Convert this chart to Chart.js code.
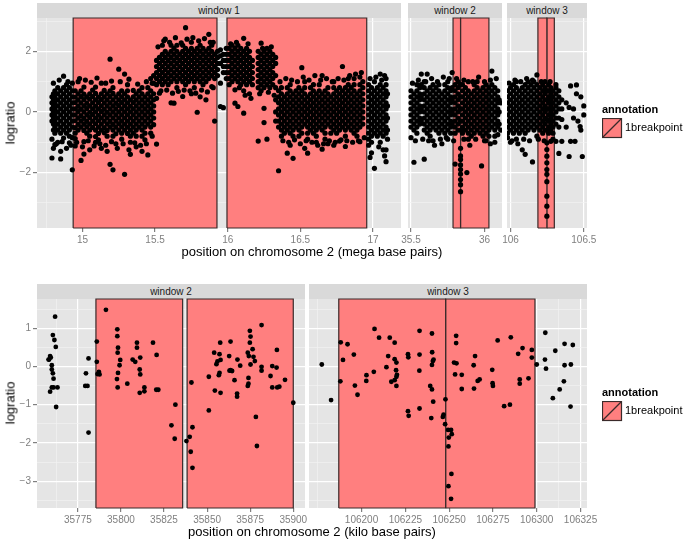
<!DOCTYPE html>
<html>
<head>
<meta charset="utf-8">
<script src="https://cdn.jsdelivr.net/npm/chart.js@4.4.1/dist/chart.umd.min.js"></script>
<style>
  body { margin: 0; background: #fff; font-family: "Liberation Sans", Arial, sans-serif; }
  #wrap { position: relative; width: 685px; height: 541px; overflow: hidden; }
  #wrap canvas { position: absolute; }
  .strip { position: absolute; height: 15px; line-height: 15px; background: #D9D9D9; color: #1a1a1a; font-size: 10px; text-align: center; }
  .title { position: absolute; font-size: 13px; color: #000; white-space: nowrap; }
  .ylab { position: absolute; font-size: 13px; color: #000; transform: translate(-50%, -50%) rotate(-90deg); white-space: nowrap; }
  .legtitle { position: absolute; font-size: 11px; font-weight: bold; }
  .legtext { position: absolute; font-size: 11px; }
  .key { position: absolute; }
</style>
</head>
<body>
<div id="wrap"></div>
<script>
// ---- top row: mega base pairs, columns of [position, [logratios]] ----
const w1Cols = [
  [14.79,[.5,.3,.1,-.1,-.3,-.9,-1.52]],
  [14.80,[.6,.4,.2,0,-.2,-.4,-.6,-1.2]],
  [14.81,[.7,.5,.3,.1,-.1,-.3,-.5,-.7,-1.08]],
  [14.83,[.8,.6,.4,.2,0,-.2,-.4,-.6,-1.0]],
  [14.85,[.7,.5,.3,.1,-.1,-.3,-.5,-.7,-1.3,-1.55]],
  [14.87,[1.18,.8,.6,.4,.2,0,-.2,-.4,-.6,-.86]],
  [14.89,[.9,.7,.5,.3,.1,-.1,-.3,-.5,-.7,-1.2]],
  [14.91,[.8,.6,.4,.2,0,-.2,-.4,-.6,-.8,-1.02]],
  [14.93,[.95,.7,.5,.3,.1,-.1,-.3,-.5,-.85,-1.91]],
  [14.95,[.7,.49,.31,.1,-.1,-.29,-.52,-.7,-.88,-1.12]],
  [14.97,[1.0,.6,.4,.19,.01,-.2,-.41,-.6]],
  [14.99,[.7,.51,.3,.09,-.12,-.3,-.5,-1.6]],
  [15.01,[.82,.59,.41,.2,0,-.21,-.4,-.61,-.98,-1.39]],
  [15.03,[.5,.29,.11,-.1,-.31,-.49,-.7]],
  [15.05,[.6,.42,.2,-.01,-.19,-.4,-.6,-.8,-1.25]],
  [15.07,[.72,.51,.3,.1,-.09,-.3,-.51]],
  [15.09,[.82,.61,.4,.19,0,-.2,-.39,-.6,-.81,-1.0]],
  [15.11,[.49,.31,.1,-.11,-.29,-.5,-.71,-.92]],
  [15.13,[.95,.6,.41,.2,.01,-.2,-.4,-.6,-1.2]],
  [15.15,[.71,.5,.3,.09,-.1,-.3,-.52,-.69]],
  [15.17,[.6,.4,.2,-.01,-.2,-.4,-.61,-.8,-1.3]],
  [15.19,[1.74,.7,.51,.3,.1,-.1,-.31,-.5,-1.73]],
  [15.21,[.8,.61,.4,.2,0,-.2,-.41,-.6,-.8,-1.91]],
  [15.23,[.5,.29,.1,-.1,-.3,-.5,-.72,-1.05]],
  [15.25,[1.41,.6,.4,.21,0,-.2,-.39,-.6]],
  [15.27,[.7,.5,.31,.1,-.1,-.3,-.49,-.7,-.9]],
  [15.29,[1.25,.6,.4,.2,0,-.2,-.4,-.6,-2.06]],
  [15.31,[.9,.7,.5,.3,.1,-.1,-.3,-.5,-.71]],
  [15.33,[.4,.19,0,-.2,-.4,-.6,-.8,-1.0,-1.4]],
  [15.35,[.71,.5,.31,.1,-.1,-.3,-.5,-.7]],
  [15.37,[.6,.4,.2,0,-.2,-.4,-.6,-.8,-1.15]],
  [15.39,[.7,.5,.3,.1,-.1,-.3,-.5]],
  [15.41,[.8,.6,.4,.2,0,-.2,-.4,-.6,-.8,-1.3]],
  [15.43,[.5,.3,.1,-.1,-.3,-.5,-.7,-.92]],
  [15.45,[.8,.6,.4,.2,0,-.2,-.4,-1.42]],
  [15.47,[1.1,.7,.5,.3,.1,-.1,-.3,-.5,-.7]],
  [15.49,[1.2,.95,.6,.4,.2,0,-.2,-.42]],
  [15.51,[1.7,1.5,1.3,1.1,.9,.45,-1.06]],
  [15.53,[1.8,1.6,1.4,1.2,1.0,.62]],
  [15.55,[2.2,1.9,1.7,1.5,1.3,1.1,.9]],
  [15.57,[2.4,2.0,1.8,1.6,1.4,1.2,1.0]],
  [15.59,[1.9,1.7,1.5,1.3,1.1,.9]],
  [15.61,[2.2,2.0,1.8,1.6,1.4,1.2,1.0,.3]],
  [15.63,[2.1,1.9,1.7,1.5,1.3,1.1,.29]],
  [15.65,[2.2,2.0,1.8,1.6,1.4,1.2,1.0,.8]],
  [15.67,[1.9,1.7,1.5,1.3,1.1]],
  [15.69,[2.2,2.0,1.8,1.6,1.4,1.2,1.0,.51]],
  [15.71,[2.78,2.1,1.9,1.7,1.5,1.3,1.1,.9]],
  [15.73,[2.0,1.8,1.6,1.4,1.2,1.0]],
  [15.75,[2.3,2.1,1.9,1.7,1.5,1.3,1.1,.6]],
  [15.77,[2.0,1.8,1.6,1.4,1.2,1.0,.8]],
  [15.79,[2.1,1.9,1.7,1.5,1.3,1.1,-.01]],
  [15.81,[2.2,2.0,1.8,1.6,1.4,1.2,1.0,.5]],
  [15.83,[2.1,1.9,1.7,1.5,1.3,1.1,.9]],
  [15.85,[2.0,1.8,1.6,1.4,1.2,1.0,.4]],
  [15.87,[2.56,2.1,1.9,1.7,1.5,1.3,1.1]],
  [15.89,[2.2,2.0,1.8,1.6,1.4,1.2,.84]],
  [15.91,[1.9,1.7,1.5,1.3,1.1,-.3]],
  [15.93,[2.0,1.8,1.6,1.4,1.2]],
  [15.95,[2.05,1.85,1.6,.95,.18]],
  [15.97,[1.9,1.7,1.5,1.3,.14]],
  [15.99,[2.1,1.9,1.7,1.5,1.3,1.1]],
  [16.01,[2.1,1.9,1.7,1.5,1.3,1.1,.9]],
  [16.03,[2.2,2.0,1.8,1.6,1.4,1.2,1.0]],
  [16.05,[2.1,1.9,1.7,1.5,1.3,1.1,.73,.29]],
  [16.07,[2.2,2.0,1.8,1.6,1.4,1.2,1.0,.18]],
  [16.09,[2.1,1.9,1.7,1.5,1.3,1.1,.9]],
  [16.11,[2.43,2.0,1.8,1.6,1.4,1.2,1.0,.7,-.04]],
  [16.13,[2.1,1.9,1.7,1.5,1.3,1.1,.9]],
  [16.15,[2.0,1.8,1.6,1.4,1.2,1.0,.6]],
  [16.17,[1.7,1.5,1.3,1.1,.9]],
  [16.21,[2.0,1.8,1.6,1.4,1.2,1.0,.8,-.96]],
  [16.23,[2.27,1.9,1.7,1.5,1.3,1.1,.9,.7]],
  [16.25,[2.0,1.8,1.6,1.4,1.2,1.0,.8,.12,-.35]],
  [16.27,[2.1,1.9,1.7,1.5,1.3,1.1,.9,-.9]],
  [16.29,[2.0,1.8,1.6,1.4,1.2,1.0,.8]],
  [16.31,[1.9,1.7,1.5,1.3,1.1,.9]],
  [16.33,[1.8,1.6,1.2,.8,.4,0,-.3]],
  [16.35,[.7,.5,.3,.1,-.1,-.3,-.5,-1.94]],
  [16.37,[.8,.6,.4,.2,0,-.2,-.4,-.6,-.8]],
  [16.39,[.5,.3,.1,-.1,-.3,-.5,-.7]],
  [16.41,[.8,.6,.4,.2,0,-.2,-.4,-.6,-1.36]],
  [16.43,[.9,.7,.5,.3,.1,-.1,-.3,-.5,-.7,-1.1]],
  [16.45,[.6,.4,.2,0,-.2,-.4,-.6,-.8,-1.53]],
  [16.47,[.7,.5,.3,.1,-.1,-.3,-.5]],
  [16.49,[.8,.6,.4,.2,0,-.2,-.4,-.6,-.8]],
  [16.51,[1.46,.7,.5,.3,.1,-.1,-.3,-.5,-.7]],
  [16.53,[1.0,.8,.6,.4,.2,0,-.2,-.4,-1.2]],
  [16.55,[.5,.3,.1,-.1,-.3,-.5,-.7,-.9,-1.36]],
  [16.57,[.8,.6,.4,.2,0,-.2,-.4,-.6]],
  [16.59,[.9,.7,.5,.3,.1,-.1,-.3,-.5,-.7]],
  [16.61,[.6,.4,.2,0,-.2,-.4,-.6,-.8,-1.0]],
  [16.63,[.9,.7,.5,.3,.1,-.1,-.3,-.5]],
  [16.65,[1.2,.6,.4,.2,0,-.2,-.4,-.6,-1.23]],
  [16.67,[.7,.5,.3,.1,-.1,-.3,-.5,-.7,-.9]],
  [16.69,[.8,.6,.4,.2,0,-.2,-.4,-1.05]],
  [16.71,[.5,.3,.1,-.1,-.3,-.5,-.7]],
  [16.73,[1.0,.8,.6,.4,.2,0,-.2,-.4,-.6,-1.1]],
  [16.75,[.7,.5,.3,.1,-.1,-.3,-.5,-.7]],
  [16.77,[.8,.6,.4,.2,0,-.2,-.4,-.6,-.96]],
  [16.79,[1.5,.7,.5,.3,.1,-.1,-.3,-.5]],
  [16.81,[.8,.6,.4,.2,0,-.2,-.4,-.6,-.8,-1.14]],
  [16.83,[1.1,.9,.7,.5,.3,.1,-.1,-.3,-.5]],
  [16.85,[.8,.6,.4,.2,0,-.2,-.4,-.6]],
  [16.87,[1.1,.9,.7,.5,.3,.1,-.1,-.3,-.5,-.7]],
  [16.89,[.6,.4,.2,0,-.2,-.4,-.6,-.8]],
  [16.91,[1.15,.9,.7,.5,.3,.1,-.1,-.3,-.5,-.98]],
  [16.93,[1.0,.8,.6,.4,.2,0,-.2,-.4]],
  [16.97,[.9,.7,.5,.3,.1,-.1,-.3,-.5,-.7,-.9,-1.1]],
  [16.99,[.8,.6,.4,.2,0,-.2,-.4,-.6,-.8,-1.0,-1.35]],
  [17.01,[1.0,.7,.5,.3,.1,-.1,-.3,-.5,-.7,-1.86]],
  [17.03,[.8,.6,.4,.2,0,-.2,-.4,-.6,-.8]],
  [17.05,[1.25,.9,.7,.5,.3,.1,-.1,-.3,-.5,-.7,-1.0]],
  [17.07,[.8,.6,.4,.2,0,-.2,-.4,-.6,-.8,-1.25]],
  [17.09,[1.1,.9,.7,.5,.3,.1,-.1,-.3,-.5,-.7,-1.64,-1.25]],
  [17.10,[.6,.2,-.2,-.6,-.9]]
];
// loose points around the edges of the window 1 clouds
const w1Edge = [
  [14.80,.95],[14.84,1.05],[14.90,1.0],[14.98,1.1],[15.02,1.05],[15.06,.98],[15.10,1.12],[15.16,.95],[15.20,1.02],
  [15.26,1.0],[15.32,1.08],[15.38,.92],[15.44,1.0],[15.48,.95],
  [14.82,-1.05],[14.86,-.98],[14.92,-1.1],[14.96,-1.0],[15.00,-1.15],[15.04,-.95],[15.08,-1.12],[15.12,-1.05],
  [15.16,-1.1],[15.20,-.98],[15.24,-1.2],[15.28,-1.05],[15.32,-1.25],[15.36,-1.02],[15.40,-1.1],[15.44,-1.05],[15.48,-.8],
  [15.52,2.15],[15.56,2.35],[15.60,2.3],[15.64,2.45],[15.68,2.28],[15.72,2.4],[15.76,2.45],[15.80,2.35],[15.84,2.42],
  [15.88,2.3],[15.90,2.3],[15.54,.7],[15.58,.72],[15.62,.62],[15.66,.68],[15.70,.72],[15.74,.7],[15.78,.62],[15.82,.72],
  [15.86,.66],[15.90,.8],
  [16.02,2.25],[16.06,2.3],[16.08,.8],[16.12,.55],[16.14,2.25],[16.16,.45],[16.22,.6],[16.24,2.1],[16.28,.65],[16.30,2.15],[16.32,.55],
  [16.36,1.0],[16.40,1.1],[16.44,1.05],[16.48,1.0],[16.52,1.15],[16.56,1.05],[16.60,1.2],[16.64,1.05],[16.68,1.1],
  [16.72,1.0],[16.76,1.1],[16.80,1.05],[16.84,1.2],[16.88,1.25],[16.92,1.3],
  [16.38,-.95],[16.42,-1.0],[16.46,-.92],[16.50,-1.05],[16.54,-.95],[16.58,-1.0],[16.62,-1.1],[16.66,-1.05],
  [16.70,-.95],[16.74,-1.0],[16.78,-.92],[16.82,-.95],[16.86,-1.0],[16.90,-.95],[16.94,-.85],
  [16.98,1.1],[17.02,1.15],[17.06,1.05],[17.08,1.2],[16.98,-1.5],[17.04,-1.15],[17.08,-1.45]
];

const w2TopCols = [
  [35.50,[.7,.5,.3,.1,-.1,-.3,-.5,-.85]],
  [35.52,[.6,.4,.2,0,-.2,-.4,-.6,-1.66]],
  [35.54,[.9,.7,.5,.3,.1,-.1,-.3,-.5,-.7]],
  [35.56,[.8,.6,.4,.2,0,-.2,-.4]],
  [35.57,[1.25,.9,.5,.1,-.3]],
  [35.59,[1.0,.8,.6,.4,.2,0,-.2,-.4,-.6,-1.56]],
  [35.61,[1.25,.7,.5,.3,.1,-.1,-.3,-.5,-.7]],
  [35.63,[.8,.6,.4,.2,0,-.2,-.4,-.6,-.8]],
  [35.65,[.9,.7,.5,.3,.1,-.1,-.3,-.5,-.95]],
  [35.67,[.8,.6,.4,.2,0,-.2,-.4,-.6]],
  [35.69,[.9,.7,.5,.3,.1,-.1,-.3,-.5,-.7]],
  [35.71,[.6,.4,.2,0,-.2,-.4,-.6,-1.05]],
  [35.73,[.9,.7,.5,.3,.1,-.1,-.3,-.5,-.7]],
  [35.75,[1.0,.8,.6,.4,.2,0,-.2,-.4,-.6,-.9]],
  [35.77,[.7,.5,.3,.1,-.1,-.3,-.5,-.7]],
  [35.78,[1.3,.8,.4,0,-.4]],
  [35.80,[.9,.7,.5,.3,.1,-.1,-.3,-.5,-.7,-1.72]],
  [35.82,[1.0,.8,.6,.4,.2,0,-.2,-.4,-.6]],
  [35.837,[.9,.5,.1,-.3,-.6,-1.2,-1.45,-1.57,-1.75,-1.9,-2.05,-2.23,-2.4,-2.63]],
  [35.85,[.9,.7,.5,.3,.1,-.1,-.3,-.5,-.7]],
  [35.87,[.8,.6,.4,.2,0,-.2,-.4,-.6]],
  [35.88,[-2.0]],
  [35.89,[1.0,.7,.5,.3,.1,-.1,-.3,-.5,-.7,-.9]],
  [35.91,[.6,.4,.2,0,-.2,-.4,-.6,-.8]],
  [35.93,[.9,.7,.5,.3,.1,-.1,-.3,-.5,-.7]],
  [35.95,[1.0,.8,.6,.4,.2,0,-.2,-.4,-.6]],
  [35.97,[.7,.5,.3,.1,-.1,-.3,-.5,-.7]],
  [35.98,[-1.78]],
  [35.99,[.8,.6,.4,.2,0,-.2,-.4,-.6,-.8]],
  [36.01,[.9,.7,.5,.3,.1,-.1,-.3,-.5,-.7,-.95]],
  [36.03,[.8,.6,.4,.2,0,-.2,-.4,-.6,-.8]],
  [36.05,[1.35,.9,.7,.5,.3,.1,-.1,-.3,-.5]],
  [36.07,[.8,.6,.4,.2,0,-.2,-.4,-.6,-.8,-1.0]],
  [36.09,[.7,.5,.3,.1,-.1,-.3,-.5,-.75]],
  [36.10,[.4,0,-.4]]
];
const w2TopEdge = [
  [35.51,.95],[35.55,1.05],[35.60,1.0],[35.64,1.1],[35.68,1.0],[35.72,1.15],[35.76,1.1],[35.81,1.1],[35.86,1.05],
  [35.92,1.0],[35.96,1.15],[36.00,1.0],[36.04,1.05],[36.08,1.1],
  [35.53,-.95],[35.58,-.9],[35.62,-.95],[35.66,-1.1],[35.70,-.9],[35.74,-.85],[35.79,-.95],[35.86,-.9],
  [35.90,-1.1],[35.94,-.9],[36.00,-.95],[36.04,-1.05],[36.11,-.6],[36.11,.3]
];

const w3TopCols = [
  [105.98,[.7,.5,.3,.1,-.1,-.3,-.5,-.7,-.85]],
  [106.00,[.8,.6,.4,.2,0,-.2,-.4,-.6,-1.0]],
  [106.02,[.9,.7,.5,.3,.1,-.1,-.3,-.5,-.7]],
  [106.04,[1.0,.8,.6,.4,.2,0,-.2,-.4,-.6,-.9]],
  [106.06,[.7,.5,.3,.1,-.1,-.3,-.5,-.7]],
  [106.08,[.8,.6,.4,.2,0,-.2,-.4,-.6,-1.25]],
  [106.10,[.9,.7,.5,.3,.1,-.1,-.3,-.5,-.7,-1.4]],
  [106.12,[1.0,.8,.6,.4,.2,0,-.2,-.4,-.6]],
  [106.14,[.9,.7,.5,.3,.1,-.1,-.3,-.5]],
  [106.15,[-1.65]],
  [106.16,[1.0,.8,.6,.4,.2,0,-.2,-.4,-.6]],
  [106.18,[1.22,.9,.7,.5,.3,.1,-.1,-.3,-.5,-.8]],
  [106.20,[.8,.6,.4,.2,0,-.2,-.4,-.6]],
  [106.22,[.9,.7,.5,.3,.1,-.1,-.3,-.5,-.7]],
  [106.235,[1.0,.8,.6,.4,.2,0,-.2,-.4,-.6]],
  [106.248,[.7,.4,.1,-.25,-.6,-1.02,-1.24,-1.46,-1.68,-1.9,-2.06,-2.3,-2.78,-3.11,-3.44]],
  [106.26,[.9,.7,.5,.3,.1,-.1,-.3,-.5,-.7]],
  [106.275,[.8,.6,.4,.2,0,-.2,-.4,-.6,-.97]],
  [106.29,[.7,.5,.3,.1,-.1,-.3,-.5,-.7]],
  [106.31,[.8,.6,.4,.2,0,-.2,-.4,-.97]],
  [106.33,[.7,.5,.3,.1,-.2,-.5,-1.37]],
  [106.35,[.4,.1,-.25,-.97]],
  [106.38,[.3,-.5]],
  [106.40,[-1.47,.15]],
  [106.41,[.86,-.97]],
  [106.43,[.1,-.2]],
  [106.44,[-.97]],
  [106.45,[.89,.6]],
  [106.46,[-.3]],
  [106.475,[-.48]],
  [106.48,[.5,-.6]],
  [106.49,[-1.47]],
  [106.50,[.2,-.1]]
];
const w3TopEdge = [
  [105.99,.95],[106.03,1.05],[106.07,1.0],[106.11,1.1],[106.15,1.05],[106.21,1.0],[106.27,1.0],[106.31,.9],
  [106.01,-.95],[106.05,-1.05],[106.09,-.9],[106.13,-.95],[106.19,-.9],[106.23,-.95],[106.29,-.9]
];

// ---- bottom row: kilo base pairs, [position, logratio] ----
const w2Points = [
  [35761.8,1.30],[35760.5,.82],[35761.4,.69],[35762.2,.51],[35758.9,.27],[35758.3,.18],[35759.3,.23],[35758.0,.18],
  [35759.9,.03],[35759.9,-.08],[35760.5,-.18],[35760.9,-.32],[35759.9,-.55],[35758.9,-.66],[35763.2,-.55],[35760.9,-.55],
  [35762.4,-1.06],[35779.7,-.18],[35779.3,-.51],[35780.6,-.51],[35781.2,.21],[35781.2,-1.73],
  [35786.0,.65],[35786.0,.12],[35787.2,-.14],[35787.6,-.21],[35786.4,-.20],[35791.3,1.48],
  [35797.9,.97],[35797.9,.79],[35798.3,.49],[35798.1,.36],[35799.6,.17],[35799.2,.03],[35798.3,-.17],[35797.7,-.33],[35798.1,-.55],
  [35803.7,-.45],[35806.8,.18],[35808.3,.12],[35809.3,.62],[35809.3,.49],[35811.2,.23],[35810.9,-.08],[35811.2,-.21],
  [35810.9,-.69],[35813.6,-.55],[35813.6,-.65],[35818.6,.62],[35820.7,.30],[35820.5,-.61],[35821.7,-.61],
  [35829.3,-1.54],[35831.6,-1.00],[35831.2,-1.89],[35838.0,-1.95],
  [35840.9,-.42],[35841.5,-1.59],[35839.9,-1.84],[35840.5,-2.23],[35841.5,-2.65],
  [35851.0,-.27],[35851.0,-1.15],[35854.1,.36],[35854.5,-.63],[35855.4,.06],[35856.0,.13],[35856.8,-.23],[35857.2,-.17],
  [35857.2,.32],[35857.6,.62],[35857.8,.17],[35857.8,-.69],[35862.8,.27],[35863.0,-.11],[35863.6,-.10],[35863.6,.65],[35864.5,-.12],
  [35865.9,-.36],[35867.4,-.71],[35867.4,-.79],[35867.6,.18],[35869.2,.02],
  [35873.6,.36],[35874.2,.27],[35874.0,-.45],[35873.6,-.51],[35874.0,-.30],[35874.8,.93],[35875.2,.78],[35874.8,.62],[35875.2,.05],
  [35876.4,.45],[35876.9,.25],[35877.7,.14],[35878.3,-1.32],[35878.9,-2.08],[35881.6,1.08],[35881.6,-.01],[35881.6,-.11],
  [35886.8,-.25],[35887.8,-.55],[35887.8,.01],[35890.3,-.03],[35890.5,.43],[35890.7,-.55],[35891.9,-.53],[35895.2,-.35],[35900.0,-.95]
];

const w3Points = [
  [106177.3,.05],[106182.6,-.88],[106188.1,.63],[106187.9,-.39],[106189.4,.17],[106192.0,.58],
  [106195.6,.31],[106196.2,-.50],[106197.7,-.74],[106202.8,-.23],[106202.7,-.38],
  [106207.4,.98],[106207.0,-.14],[106210.0,.75],[106214.2,-.02],[106215.2,.27],[106216.1,.75],[106217.0,-.40],
  [106218.9,.62],[106218.9,.19],[106219.9,.10],[106219.7,-.10],[106219.9,-.27],[106218.9,-.36],[106219.9,-.51],[106220.2,-.22],
  [106226.5,.32],[106226.7,.24],[106226.5,-1.17],[106226.9,-1.29],
  [106233.1,.93],[106233.1,.31],[106233.0,-.11],[106233.1,-1.10],
  [106240.2,.86],[106240.3,.37],[106241.1,.18],[106240.7,.14],[106240.2,.04],[106239.2,-.51],[106240.2,-.60],[106240.9,-.92],[106239.8,-1.35],
  [106246.4,-1.32],[106246.8,-1.26],[106247.7,-1.51],[106247.9,-.86],
  [106249.4,-1.66],[106251.1,-1.66],[106251.5,-1.77],[106249.8,-1.86],[106249.6,-2.09],[106251.3,-2.81],[106249.6,-3.13],[106251.1,-3.46],
  [106254.0,.80],[106254.0,.61],[106252.8,.10],[106254.2,.08],[106253.4,-.21],[106257.2,-.22],[106257.2,-.59],
  [106264.0,.03],[106264.8,.27],[106264.2,-.58],[106266.3,-.38],[106267.4,-.34],
  [106274.6,-.09],[106274.8,-.44],[106275.0,-.51],[106277.7,.68],[106281.4,-1.04],[106284.7,-1.00],[106285.2,.76],
  [106289.4,.33],[106290.3,-.34],[106290.3,-.45],[106291.9,.48],[106295.3,-.31],[106297.2,.43],[106297.2,.23],
  [106300.0,.05],[106304.9,.88],[106304.7,.18],[106305.3,-.06],[106310.6,.41],[106309.2,-.83],[106313.1,-.60],
  [106315.5,-.39],[106315.9,.59],[106315.9,.03],[106319.5,.05],[106320.6,.56],[106319.3,-1.05]
];

// breakpoint segments [start, end]
const w1Rects = [[14.936, 15.926], [15.995, 16.957]];
const w2TopRects = [[35.786, 35.837], [35.837, 36.03]];
const w3TopRects = [[106.187, 106.248], [106.248, 106.299]];
const w2Rects = [[35785.5, 35835.8], [35838.4, 35900]];
const w3Rects = [[106187, 106248], [106248, 106299]];

// ticks
const topY = [-2, 0, 2], topYLabels = ['−2', '0', '2'], topYMinor = [-3, -1, 1, 3];
const botY = [-3, -2, -1, 0, 1], botYLabels = ['−3', '−2', '−1', '0', '1'], botYMinor = [-3.5, -2.5, -1.5, -0.5, 0.5, 1.5];
const w1X = [15, 15.5, 16, 16.5, 17], w1XMinor = [14.75, 15.25, 15.75, 16.25, 16.75];
const w2TopX = [35.5, 36], w2TopXMinor = [35.75];
const w3TopX = [106, 106.5], w3TopXMinor = [106.25];
const w2X = [35775, 35800, 35825, 35850, 35875, 35900], w2XMinor = [35762.5, 35787.5, 35812.5, 35837.5, 35862.5, 35887.5];
const w3X = [106200, 106225, 106250, 106275, 106300, 106325], w3XMinor = [106175, 106187.5, 106212.5, 106237.5, 106262.5, 106287.5, 106312.5];

const PINK = '#FF7F7F', EDGE = '#3a2a2a';
Chart.defaults.font.family = '"Liberation Sans", Arial, sans-serif';

const wrap = document.getElementById('wrap');

function fromCols(cols) {
  const out = [];
  cols.forEach(([x, ys]) => ys.forEach(y => out.push({ x, y })));
  return out;
}
function fromPairs(list) {
  return list.map(([x, y]) => ({ x, y }));
}

const panelBg = {
  id: 'panelBg',
  beforeDraw(chart) {
    const a = chart.chartArea, c = chart.ctx;
    c.save();
    c.fillStyle = '#E5E5E5';
    c.fillRect(a.left, a.top, a.right - a.left, a.bottom - a.top);
    c.restore();
  }
};

function tickSetup(major, labels, minor) {
  const map = new Map(major.map((v, i) => [v, labels ? labels[i] : String(v)]));
  return {
    afterBuildTicks(scale) {
      scale.ticks = major.map(v => ({ value: v }))
        .concat(minor.map(v => ({ value: v, minor: true })))
        .sort((a, b) => a.value - b.value);
    },
    callback(value, i, ticks) {
      return ticks[i].minor ? '' : map.get(value);
    }
  };
}

function gridOpts(drawTicks) {
  return {
    color: ctx => (ctx.tick && ctx.tick.minor ? '#F2F2F2' : '#FFFFFF'),
    lineWidth: ctx => (ctx.tick && ctx.tick.minor ? 0.7 : 1.2),
    tickColor: ctx => (ctx.tick && ctx.tick.minor ? 'rgba(0,0,0,0)' : '#7F7F7F'),
    tickLength: 4,
    drawTicks: drawTicks
  };
}

function panel(o) {
  const M = 18, B = 28;
  const L = o.showY ? o.left : M;
  const cw = o.width + L + M, ch = o.height + M + B;
  const cv = document.createElement('canvas');
  cv.width = cw; cv.height = ch;
  cv.style.left = (o.left - L) + 'px';
  cv.style.top = (o.top - M) + 'px';
  cv.style.width = cw + 'px';
  cv.style.height = ch + 'px';
  wrap.appendChild(cv);

  const xt = tickSetup(o.xTicks, null, o.xMinor);
  const yt = tickSetup(o.yTicks, o.yLabels, o.yMinor);

  const datasets = [{
    type: 'scatter',
    data: o.points,
    pointRadius: o.r,
    pointBackgroundColor: '#000',
    pointBorderWidth: 0,
    order: 1
  }];
  o.rects.forEach(([x1, x2]) => {
    datasets.push({
      type: 'line',
      data: [{ x: x1, y: o.yMin }, { x: x1, y: o.yMax }, { x: x2, y: o.yMax }, { x: x2, y: o.yMin }, { x: x1, y: o.yMin }],
      fill: 'shape',
      backgroundColor: PINK,
      borderColor: EDGE,
      borderWidth: 1.2,
      pointRadius: 0,
      tension: 0,
      clip: false,
      order: 2
    });
  });

  new Chart(cv, {
    type: 'scatter',
    data: { datasets },
    options: {
      responsive: false,
      animation: false,
      events: [],
      layout: { padding: { top: M, right: M, bottom: 0, left: o.showY ? 0 : M } },
      plugins: { legend: { display: false }, tooltip: { enabled: false } },
      scales: {
        x: {
          type: 'linear',
          min: o.xMin, max: o.xMax,
          border: { display: false },
          grid: gridOpts(true),
          ticks: { autoSkip: false, maxRotation: 0, padding: 2, color: '#7F7F7F', font: { size: 10 }, callback: xt.callback },
          afterBuildTicks: xt.afterBuildTicks,
          afterFit(scale) { scale.height = B; }
        },
        y: {
          type: 'linear',
          min: o.yMin, max: o.yMax,
          border: { display: false },
          grid: gridOpts(o.showY),
          ticks: { display: o.showY, autoSkip: false, padding: 2, color: '#7F7F7F', font: { size: 10 }, callback: yt.callback },
          afterBuildTicks: yt.afterBuildTicks,
          afterFit(scale) { scale.width = o.showY ? L : 0; }
        }
      }
    },
    plugins: [panelBg]
  });
}

function addDiv(cls, text, style) {
  const d = document.createElement('div');
  d.className = cls;
  d.textContent = text;
  Object.assign(d.style, style);
  wrap.appendChild(d);
  return d;
}

function strip(text, left, width, top) {
  addDiv('strip', text, { left: left + 'px', width: width + 'px', top: top + 'px' });
}

function legend(top) {
  addDiv('legtitle', 'annotation', { left: '602px', top: (top - 7) + 'px' });
  const k = document.createElement('div');
  k.className = 'key';
  Object.assign(k.style, { left: '602px', top: (top + 8) + 'px' });
  k.innerHTML = '<svg width="21" height="21"><rect x="0.5" y="0.5" width="19" height="19" fill="' + PINK +
    '" stroke="' + EDGE + '" stroke-width="1.2"/><line x1="0.5" y1="19.5" x2="19.5" y2="0.5" stroke="' + EDGE + '" stroke-width="1.2"/></svg>';
  wrap.appendChild(k);
  addDiv('legtext', '1breakpoint', { left: '625px', top: (top + 11) + 'px' });
}

// ---- top row ----
const TOP = { top: 18, height: 210, yMin: -3.83, yMax: 3.10, yTicks: topY, yLabels: topYLabels, yMinor: topYMinor, r: 2.6 };
strip('window 1', 37, 364, 3);
strip('window 2', 408, 94, 3);
strip('window 3', 507, 80, 3);
panel(Object.assign({}, TOP, { left: 37, width: 364, xMin: 14.687, xMax: 17.193, xTicks: w1X, xMinor: w1XMinor,
  points: fromCols(w1Cols).concat(fromPairs(w1Edge)), rects: w1Rects, showY: true }));
panel(Object.assign({}, TOP, { left: 408, width: 94, xMin: 35.4796, xMax: 36.119, xTicks: w2TopX, xMinor: w2TopXMinor,
  points: fromCols(w2TopCols).concat(fromPairs(w2TopEdge)), rects: w2TopRects, showY: false }));
panel(Object.assign({}, TOP, { left: 507, width: 80, xMin: 105.976, xMax: 106.522, xTicks: w3TopX, xMinor: w3TopXMinor,
  points: fromCols(w3TopCols).concat(fromPairs(w3TopEdge)), rects: w3TopRects, showY: false }));
addDiv('title', 'position on chromosome 2 (mega base pairs)', { left: '312px', top: '244px', transform: 'translateX(-50%)' });
addDiv('ylab', 'logratio', { left: '10px', top: '123px' });
legend(110);

// ---- bottom row ----
const BOT = { top: 299, height: 209, yMin: -3.70, yMax: 1.762, yTicks: botY, yLabels: botYLabels, yMinor: botYMinor, r: 2.4 };
strip('window 2', 37, 268, 284);
strip('window 3', 309, 278, 284);
panel(Object.assign({}, BOT, { left: 37, width: 268, xMin: 35751.3, xMax: 35906.8, xTicks: w2X, xMinor: w2XMinor,
  points: fromPairs(w2Points), rects: w2Rects, showY: true }));
panel(Object.assign({}, BOT, { left: 309, width: 278, xMin: 106170, xMax: 106328.7, xTicks: w3X, xMinor: w3XMinor,
  points: fromPairs(w3Points), rects: w3Rects, showY: false }));
addDiv('title', 'position on chromosome 2 (kilo base pairs)', { left: '312px', top: '524px', transform: 'translateX(-50%)' });
addDiv('ylab', 'logratio', { left: '10px', top: '403px' });
legend(393);
</script>
</body>
</html>
